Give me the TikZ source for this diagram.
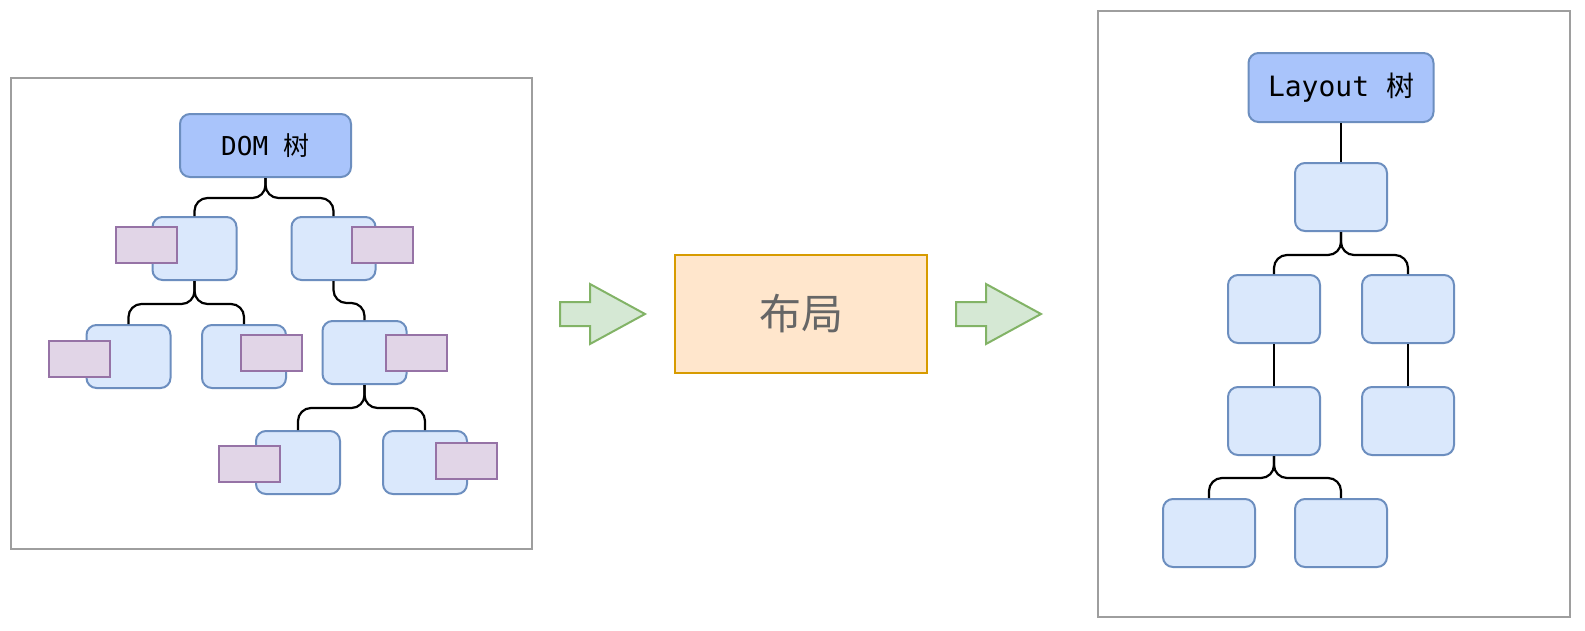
\documentclass[tikz,border=0pt]{standalone}
\usepackage{fontspec}
\newfontfamily\cjk{Noto Sans CJK SC}
\newfontfamily\mono{DejaVu Sans Mono}
\usetikzlibrary{positioning}
\definecolor{nodefill}{HTML}{DAE8FC}
\definecolor{nodeline}{HTML}{6C8EBF}
\definecolor{rootfill}{HTML}{A9C4FB}
\definecolor{attrfill}{HTML}{E1D5E7}
\definecolor{attrline}{HTML}{9673A6}
\definecolor{stagefill}{HTML}{FFE6CC}
\definecolor{stageline}{HTML}{D79B00}
\definecolor{flowfill}{HTML}{D5E8D4}
\definecolor{flowline}{HTML}{82B366}
\definecolor{panelline}{HTML}{9E9E9E}
\tikzset{
    panel/.style={rectangle, draw=panelline, fill=white, line width=2pt, inner sep=0pt},
    tbox/.style={rectangle, rounded corners=10pt, draw=nodeline, fill=nodefill, line width=2pt, minimum width=84pt, minimum height=63pt, inner sep=0pt},
    bigbox/.style={tbox, minimum width=92pt, minimum height=68pt},
    root/.style={tbox, fill=rootfill, minimum width=171pt, minimum height=63pt, font={\fontsize{26}{30}\selectfont\mono}},
    bigroot/.style={root, minimum width=185pt, minimum height=69pt, font={\fontsize{28}{32}\selectfont\mono}},
    attr/.style={rectangle, draw=attrline, fill=attrfill, line width=2pt, minimum width=61pt, minimum height=36pt, inner sep=0pt},
    stage/.style={rectangle, draw=stageline, fill=stagefill, line width=2pt, minimum width=252pt, minimum height=118pt, text=black!60, font={\fontsize{42}{46}\selectfont\cjk}},
    branch/.style={draw=black, line width=2.2pt, rounded corners=13pt},
    flow/.style={draw=flowline, fill=flowfill, line width=2pt},
}
\begin{document}
\begin{tikzpicture}[x=1pt, y=-1pt]
    \useasboundingbox (0,0) rectangle (1585,630);
    % DOM side
    \node [panel, minimum width=521pt, minimum height=471pt] (lp) at (271.5,313.5) {};
    \node [root] (dom) at (265.5,145.5) {DOM {\cjk 树}};
    \node [tbox] (n1) at (194.5,248.5) {};
    \node [tbox] (n2) at (333.5,248.5) {};
    \node [tbox] (na) at (128.5,356.5) {};
    \node [tbox] (nb) at (244,356.5) {};
    \node [tbox] (nc) at (364.5,352.5) {};
    \node [tbox] (nd) at (298,462.5) {};
    \node [tbox] (ne) at (425,462.5) {};
    \node [attr] (p1) at (146.5,245) {};
    \node [attr] (p2) at (382.5,245) {};
    \node [attr] (pa) at (79.5,359) {};
    \node [attr] (pb) at (271.5,353) {};
    \node [attr] (pc) at (416.5,353) {};
    \node [attr] (pd) at (249.5,463.5) {};
    \node [attr] (pe) at (466.5,461) {};
    \draw [branch] (dom.south) -- ++(0,20) -| (n1.north);
    \draw [branch] (dom.south) -- ++(0,20) -| (n2.north);
    \draw [branch] (n1.south) -- ++(0,23) -| (na.north);
    \draw [branch] (n1.south) -- ++(0,23) -| (nb.north);
    \draw [branch] (n2.south) -- ++(0,22) -| (nc.north);
    \draw [branch] (nc.south) -- ++(0,23) -| (nd.north);
    \draw [branch] (nc.south) -- ++(0,23) -| (ne.north);
    % pipeline
    \draw [flow] (560,302) -- (590,302) -- (590,284) -- (645,314) -- (590,344) -- (590,326) -- (560,326) -- cycle;
    \node [stage] (lay) at (801,314) {布局};
    \draw [flow] (956,302) -- (986,302) -- (986,284) -- (1041,314) -- (986,344) -- (986,326) -- (956,326) -- cycle;
    % Layout side
    \node [panel, minimum width=472pt, minimum height=606pt] (rp) at (1334,314) {};
    \node [bigroot] (lt) at (1341,87.5) {Layout {\cjk 树}};
    \node [bigbox] (r1) at (1341,197) {};
    \node [bigbox] (r2a) at (1274,309) {};
    \node [bigbox] (r2b) at (1408,309) {};
    \node [bigbox] (r3a) at (1274,421) {};
    \node [bigbox] (r3b) at (1408,421) {};
    \node [bigbox] (r4a) at (1209,533) {};
    \node [bigbox] (r4b) at (1341,533) {};
    \draw [branch] (lt.south) -- (r1.north);
    \draw [branch] (r1.south) -- ++(0,23) -| (r2a.north);
    \draw [branch] (r1.south) -- ++(0,23) -| (r2b.north);
    \draw [branch] (r2a.south) -- (r3a.north);
    \draw [branch] (r2b.south) -- (r3b.north);
    \draw [branch] (r3a.south) -- ++(0,22) -| (r4a.north);
    \draw [branch] (r3a.south) -- ++(0,22) -| (r4b.north);
\end{tikzpicture}
\end{document}
